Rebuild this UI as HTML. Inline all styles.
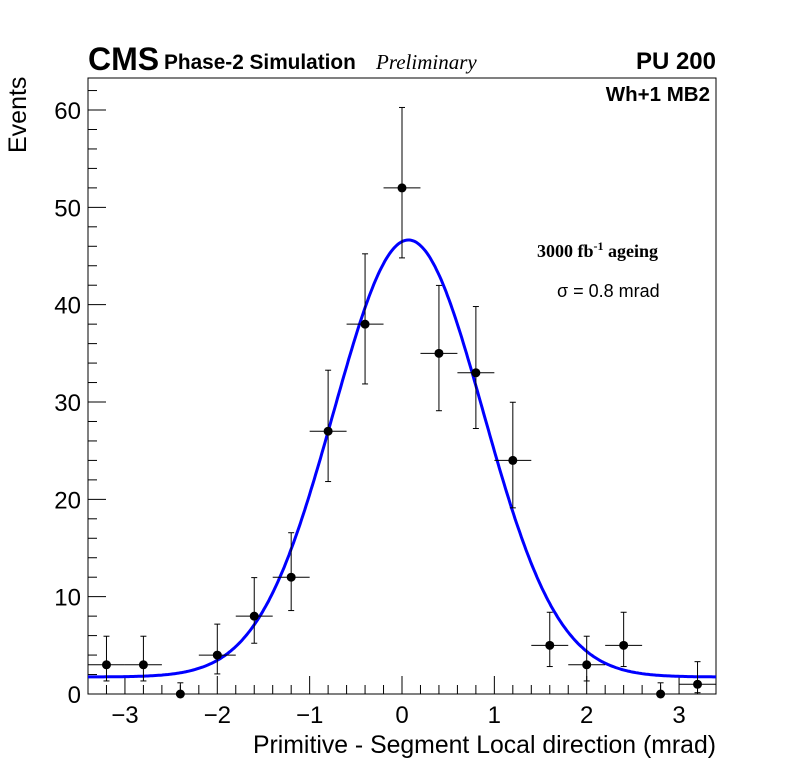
<!DOCTYPE html>
<html><head><meta charset="utf-8"><style>
body{margin:0;background:#fff;width:796px;height:772px;overflow:hidden}
svg{display:block}
text{font-family:"Liberation Sans",sans-serif}
</style></head><body>
<svg id="chart" width="796" height="772">
<g id="g"></g>
<g>
<text x="88" y="70" font-size="32" font-weight="bold">CMS</text>
<text x="164" y="69" font-size="20.8" font-weight="bold">Phase-2 Simulation</text>
<text x="376" y="69" font-size="21" font-style="italic" style="font-family:'Liberation Serif',serif">Preliminary</text>
<text x="716" y="69" font-size="24" font-weight="bold" text-anchor="end">PU 200</text>
<text x="710" y="101" font-size="20.5" font-weight="bold" text-anchor="end">Wh+1 MB2</text>
<text x="537" y="257" font-size="18" font-weight="bold" style="font-family:'Liberation Serif',serif">3000 fb<tspan dy="-7" font-size="12">-1</tspan><tspan dy="7"> ageing</tspan></text>
<text x="557" y="297" font-size="18">σ = 0.8 mrad</text>
<text x="716" y="753" font-size="24.8" text-anchor="end">Primitive - Segment Local direction (mrad)</text>
<text transform="translate(26,153) rotate(-90)" font-size="25">Events</text>
</g>
</svg>
<script>
const binCenters=[-3.2,-2.8,-2.4,-2.0,-1.6,-1.2,-0.8,-0.4,0,0.4,0.8,1.2,1.6,2.0,2.4,2.8,3.2];
const counts=[3,3,0,4,8,12,27,38,52,35,33,24,5,3,5,0,1];
const xTicks=[-3,-2,-1,0,1,2,3];
const yTicks=[0,10,20,30,40,50,60];
const fitConst=1.75, fitAmp=44.9, fitMean=0.07, fitSigma=0.81;
const binHalf=0.2;

const L=88,R=716,T=78,B=694;
const xmin=-3.4,xmax=3.4,ymin=0,ymax=(694-78)/9.733;
const X=v=>L+(v-xmin)/(xmax-xmin)*(R-L);
const Y=v=>B-(v-ymin)/(ymax-ymin)*(B-T);
const NS="http://www.w3.org/2000/svg";
const g=document.getElementById('g');
function el(t,a,txt){const e=document.createElementNS(NS,t);for(const k in a)e.setAttribute(k,a[k]);if(txt!==undefined)e.textContent=txt;g.appendChild(e);return e;}

let f=el('rect',{x:L,y:T,width:R-L,height:B-T,fill:'none',stroke:'#000','stroke-width':1});



for(let v=-3.4;v<=3.4001;v+=0.2){
  const r=Math.round(v*10)/10;const major=Math.abs(r-Math.round(r))<1e-6;
  const t=el('line',{x1:X(r),x2:X(r),y1:B,y2:B-(major?18:9),stroke:'#000'});
  
  
}
xTicks.forEach(v=>{
  const t=el('text',{x:X(v),y:723,'font-size':24,'text-anchor':'middle'},v<0?'\u2212'+Math.abs(v):String(v));
  
  
});
for(let v=0;v<=ymax;v+=2){
  const major=v%10===0;
  const t=el('line',{x1:L,x2:L+(major?18:9),y1:Y(v),y2:Y(v),stroke:'#000'});
  
  
}
yTicks.forEach(v=>{
  const t=el('text',{x:81,y:Y(v)+9,'font-size':24,'text-anchor':'end'},String(v));
  
  
});

let d='';
for(let i=0;i<=400;i++){const x=xmin+(xmax-xmin)*i/400;const y=fitConst+fitAmp*Math.exp(-Math.pow(x-fitMean,2)/(2*fitSigma*fitSigma));d+=(i?'L':'M')+X(x).toFixed(1)+','+Y(y).toFixed(1);}
const c=el('path',{d:d,fill:'none',stroke:'#0000ff','stroke-width':3});



binCenters.forEach((x,i)=>{
  const n=counts[i];
  const up=n===0?1.15:n+1+Math.sqrt(n+0.75), lo=n===0?0:n-Math.sqrt(n-0.25);
  const h=el('line',{x1:X(x-binHalf),x2:X(x+binHalf),y1:Y(n),y2:Y(n),stroke:'#000'});
  
  
  const v=el('line',{x1:X(x),x2:X(x),y1:Y(up),y2:Y(lo),stroke:'#000'});
  
  
  [up,lo].forEach(e=>{const cap=el('line',{x1:X(x)-3,x2:X(x)+3,y1:Y(e),y2:Y(e),stroke:'#000'});
    
    });
  const p=el('circle',{cx:X(x),cy:Y(n),r:4.5,fill:'#000'});
  
  
});
</script>
</body></html>
